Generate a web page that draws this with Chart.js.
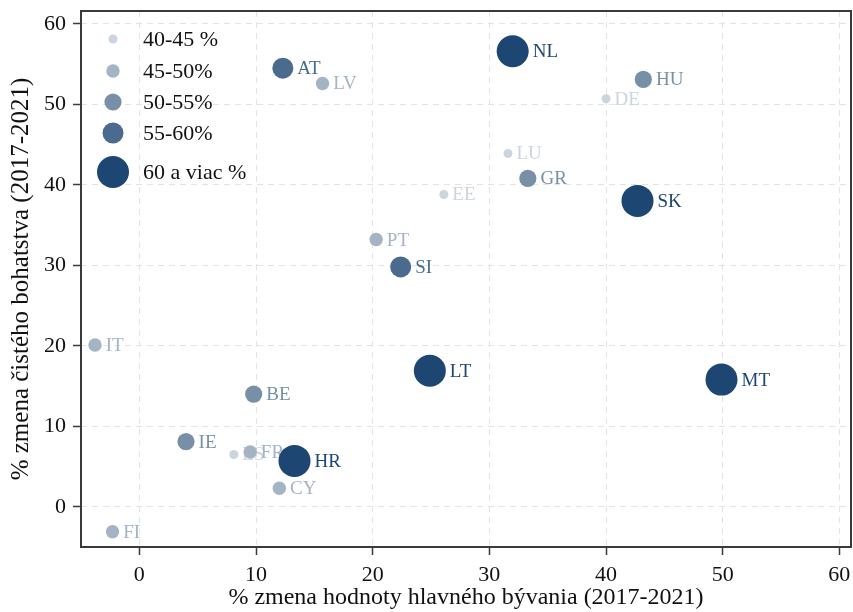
<!DOCTYPE html>
<html>
<head>
<meta charset="utf-8">
<script src="https://cdn.jsdelivr.net/npm/chart.js@4.4.0/dist/chart.umd.min.js"></script>
<style>
  html, body { margin: 0; padding: 0; background: #fff; }
  canvas { display: block; }
</style>
</head>
<body>
<canvas id="chart" width="853" height="612"></canvas>
<script>
// data
const countries = ["NL", "AT", "LV", "HU", "DE", "LU", "GR", "EE", "SK", "PT", "SI", "IT", "LT", "MT", "BE", "IE", "ES", "FR", "HR", "CY", "FI"];
const housingChange = [32.0, 12.3, 15.7, 43.2, 40.0, 31.6, 33.3, 26.1, 42.7, 20.3, 22.4, -3.8, 24.9, 49.9, 9.8, 4.0, 8.1, 9.5, 13.3, 12.0, -2.3];
const wealthChange = [56.6, 54.5, 52.6, 53.1, 50.7, 43.9, 40.8, 38.8, 38.0, 33.2, 29.8, 20.1, 16.9, 15.8, 14.0, 8.1, 6.5, 6.8, 5.7, 2.3, -3.1];
const shareGroup = [4, 3, 1, 2, 0, 0, 2, 0, 4, 1, 3, 1, 4, 4, 2, 2, 0, 1, 4, 1, 1];
const groupLabels = ["40-45 %", "45-50%", "50-55%", "55-60%", "60 a viac %"];
const xTicks = [0, 10, 20, 30, 40, 50, 60];
const yTicks = [0, 10, 20, 30, 40, 50, 60];

// styles
const groupColors = ["#ccd5df", "#a4b4c4", "#7790a8", "#4a6b8e", "#1d4672"];
const groupRadius = [4.5, 6.7, 8.6, 10.5, 16];
const serif = '"Liberation Serif", "Times New Roman", serif';

const datasets = groupLabels.map((label, g) => {
  const idx = countries.map((c, i) => i).filter(i => shareGroup[i] === g);
  return {
    label: label,
    data: idx.map(i => ({ x: housingChange[i], y: wealthChange[i] })),
    names: idx.map(i => countries[i]),
    backgroundColor: groupColors[g],
    borderWidth: 0,
    pointRadius: groupRadius[g],
    pointHoverRadius: groupRadius[g],
    order: groupLabels.length - g  // small bubbles first, big ones on top
  };
});

// country codes next to the dots, drawn right after their own dataset
const pointLabels = {
  id: "pointLabels",
  afterDatasetDraw(chart, args) {
    const ds = chart.data.datasets[args.index];
    const ctx = chart.ctx;
    ctx.save();
    ctx.font = "19px " + serif;
    ctx.fillStyle = ds.backgroundColor;
    ctx.textBaseline = "middle";
    args.meta.data.forEach((pt, i) => {
      ctx.fillText(ds.names[i], pt.x + ds.pointRadius + 4, pt.y + 1);
    });
    ctx.restore();
  }
};

// legend inside the plot, top left
const sizeLegend = {
  id: "sizeLegend",
  afterDraw(chart) {
    const ctx = chart.ctx;
    const rows = [39, 71, 102, 133, 172];
    ctx.save();
    ctx.font = "22px " + serif;
    ctx.textBaseline = "middle";
    groupLabels.forEach((lab, g) => {
      ctx.fillStyle = groupColors[g];
      ctx.beginPath();
      ctx.arc(113, rows[g], groupRadius[g], 0, Math.PI * 2);
      ctx.fill();
      ctx.fillStyle = "#111";
      ctx.fillText(lab, 143, rows[g] + 1);
    });
    ctx.restore();
  }
};

// box around the plot
const frame = {
  id: "frame",
  afterDraw(chart) {
    const a = chart.chartArea;
    const ctx = chart.ctx;
    ctx.save();
    ctx.strokeStyle = "#3a3a3a";
    ctx.lineWidth = 2;
    ctx.strokeRect(a.left, a.top, a.right - a.left, a.bottom - a.top);
    ctx.restore();
  }
};

const gridOpts = {
  color: "#e4e4e4",
  lineWidth: 1,
  tickColor: "#3a3a3a",
  tickLength: 8,
  tickWidth: 1.5,
  tickBorderDash: []
};

// keep the plot box where the reference has it
function noPad(s) {
  s.paddingTop = 0; s.paddingBottom = 0; s.paddingLeft = 0; s.paddingRight = 0;
}

new Chart(document.getElementById("chart"), {
  type: "scatter",
  data: { datasets: datasets },
  plugins: [pointLabels, sizeLegend, frame],
  options: {
    responsive: false,
    animation: false,
    layout: { autoPadding: false, padding: { top: 11, right: 2, left: 0, bottom: 0 } },
    plugins: { legend: { display: false }, tooltip: { enabled: false } },
    scales: {
      x: {
        type: "linear",
        min: -5,
        max: 61,
        afterBuildTicks: s => { s.ticks = xTicks.map(v => ({ value: v })); },
        afterFit: s => { s.height = 65; noPad(s); },
        grid: gridOpts,
        border: { display: false, dash: [6, 5] },
        ticks: { color: "#111", font: { family: serif, size: 22 }, padding: 7, maxRotation: 0 },
        title: {
          display: true,
          text: "% zmena hodnoty hlavného bývania (2017-2021)",
          color: "#111",
          font: { family: serif, size: 24 },
          padding: { top: 0, bottom: 0 }
        }
      },
      y: {
        type: "linear",
        min: -5,
        max: 61.6,
        afterBuildTicks: s => { s.ticks = yTicks.map(v => ({ value: v })); },
        afterFit: s => { s.width = 81; noPad(s); },
        grid: gridOpts,
        border: { display: false, dash: [6, 5] },
        ticks: { color: "#111", font: { family: serif, size: 22 }, padding: 7 },
        title: {
          display: true,
          text: "% zmena čistého bohatstva (2017-2021)",
          color: "#111",
          font: { family: serif, size: 25 },
          padding: { top: 6, bottom: 0 }
        }
      }
    }
  }
});
</script>
</body>
</html>
